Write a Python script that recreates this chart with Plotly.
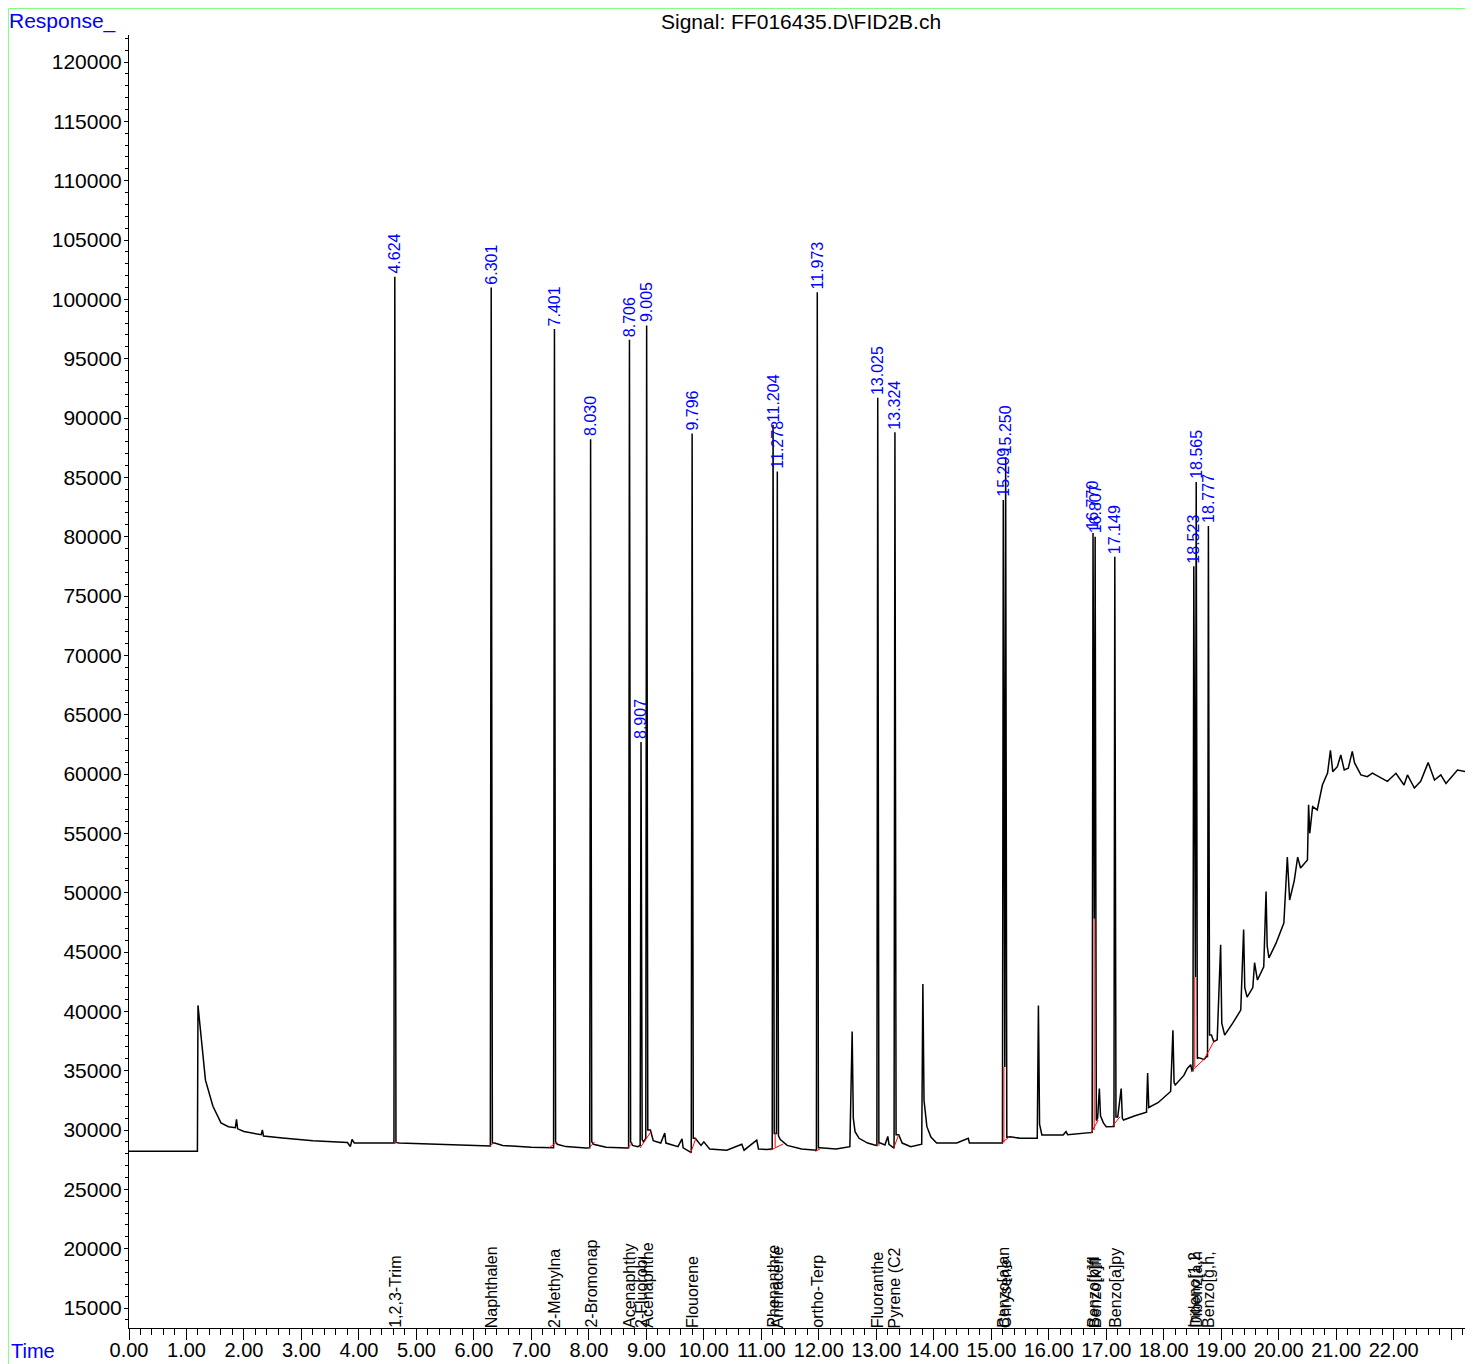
import plotly.graph_objects as go

# ---------------- data ----------------
# labelled peaks: retention time, apex response, base before, base after
peak_times = [4.624, 6.301, 7.401, 8.030, 8.706, 8.907, 9.005, 9.796, 11.204, 11.278,
              11.973, 13.025, 13.324, 15.209, 15.250, 16.770, 16.807, 17.149,
              18.523, 18.565, 18.777]
peak_apex = [101900, 101000, 97500, 88200, 96600, 62700, 97800, 88700, 89400, 85500,
             100600, 91700, 88800, 83100, 86700, 80300, 80000, 78300,
             77500, 84600, 80900]
peak_base_left = [28900, 28650, 28500, 28500, 28500, 28700, 29300, 28100, 28400, 29700,
                  28300, 28700, 28500, 28900, 35300, 29800, 47800, 30300,
                  35000, 42900, 36200]
peak_base_right = [28950, 28900, 29000, 29000, 29000, 29200, 30000, 29300, 29700, 29500,
                   28500, 28900, 29600, 35300, 29400, 47800, 30800, 31100,
                   42900, 36000, 38000]
compound_names = ["1,2,3-Trim", "Naphthalen", "2-Methylna", "2-Bromonap", "Acenaphthy",
                  "2-Fluorobi", "Acenaphthe", "Flouorene", "Phenanthre", "Anthracene",
                  "ortho-Terp", "Fluoranthe", "Pyrene (C2", "Benzo[a]an", "Chrysene",
                  "Benzo[b]fl", "Benzo[k]fl", "Benzo[a]py", "Indeno[1,2", "Dibenz[a,h",
                  "Benzo[g,h,"]

# rest of the signal (baseline, drift and unlabelled peaks)
signal_time = [0.00, 1.19, 1.20, 1.24, 1.33, 1.46, 1.60, 1.73, 1.85, 1.87, 1.89, 2.00,
               2.30, 2.32, 2.34, 2.67, 3.20, 3.80, 3.85, 3.88, 3.92, 4.40, 4.59,
               4.70, 5.30, 6.00, 6.25, 6.36, 6.50, 7.00, 7.33, 7.45, 7.60, 7.95,
               8.08, 8.30, 8.67, 8.76, 8.85, 8.95, 9.07, 9.12, 9.25, 9.32, 9.34,
               9.55, 9.62, 9.64, 9.77, 9.85, 9.95, 10.00, 10.10, 10.40, 10.66, 10.70,
               10.92, 10.95, 11.10, 11.17, 11.24, 11.33, 11.45, 11.70, 11.95, 12.02,
               12.30, 12.54, 12.58, 12.60, 12.63, 12.70, 12.85, 13.00, 13.07, 13.15,
               13.20, 13.22, 13.30, 13.39, 13.45, 13.60, 13.79, 13.81, 13.83, 13.88,
               13.95, 14.05, 14.40, 14.60, 14.62, 15.00, 15.19, 15.33, 15.50, 15.80,
               15.82, 15.84, 15.88, 16.25, 16.30, 16.33, 16.60, 16.74, 16.85, 16.88,
               16.90, 16.95, 17.00, 17.12, 17.20, 17.26, 17.28, 17.30, 17.50, 17.70,
               17.72, 17.74, 17.90, 18.12, 18.16, 18.18, 18.20, 18.35, 18.41, 18.47,
               18.49, 18.60, 18.70, 18.75, 18.83, 18.87, 18.93, 18.99, 19.01, 19.06,
               19.20, 19.34, 19.39, 19.41, 19.45, 19.55, 19.58, 19.63, 19.74, 19.78,
               19.80, 19.83, 19.95, 20.09, 20.15, 20.17, 20.19, 20.27, 20.33, 20.38,
               20.45, 20.50, 20.52, 20.54, 20.59, 20.67, 20.76, 20.85, 20.90, 20.94,
               21.02, 21.08, 21.14, 21.21, 21.28, 21.32, 21.43, 21.54, 21.63, 21.78,
               21.89, 22.04, 22.18, 22.24, 22.36, 22.47, 22.60, 22.71, 22.82, 22.91,
               23.11, 23.38]
signal_resp = [28200, 28200, 40500, 38500, 34200, 32000, 30600, 30280, 30200, 30900, 30100, 29870,
               29600, 30000, 29500, 29330, 29100, 28950, 28600, 29200, 28900, 28900, 28850,
               28900, 28800, 28740, 28650, 28900, 28700, 28550, 28480, 28800, 28600, 28480,
               28800, 28550, 28480, 28700, 28600, 29000, 30000, 29100, 28900, 29750, 28900,
               28600, 29250, 28500, 28100, 29300, 28700, 29000, 28400, 28300, 28800, 28300,
               29150, 28400, 28350, 28400, 29700, 29200, 28700, 28400, 28300, 28500,
               28400, 28600, 38300, 31000, 29860, 29300, 28900, 28700, 28900, 28740,
               29460, 28800, 28500, 29600, 28900, 28600, 28800, 42300, 32500, 30280,
               29400, 28900, 28900, 29300, 28900, 28900, 28900, 29440, 29300, 29300,
               40500, 30500, 29580, 29580, 29860, 29600, 29700, 29800, 31000, 33500,
               31200, 30600, 30280, 30300, 31100, 33500, 31000, 30840, 31200, 31500,
               34800, 31900, 32300, 33250, 38400, 34000, 33800, 34600, 35180, 35500,
               35000, 36100, 35950, 36200, 38000, 37450, 37600, 45600, 39000, 38000,
               39000, 40100, 46900, 42000, 41200, 42000, 44100, 42640, 43760, 50100,
               45500, 44500, 45700, 47440, 53000, 50500, 49380, 51000, 53000, 52080,
               52500, 52750, 57400, 55000, 57250, 56970, 59070, 60080, 62000, 60200,
               60620, 61600, 60340, 60480, 61900, 60930, 59920, 59780, 60070, 59640,
               59380, 60060, 59070, 59920, 58820, 59380, 60960, 59490, 59920, 59210,
               60340, 60070]

# red integration baselines: start time, start response, end time, end response
base_t0 = [4.60, 6.27, 7.30, 8.00, 8.67, 8.89, 9.77, 11.16, 11.24, 11.94, 13.00, 13.30,
           15.18, 15.22, 16.73, 16.79, 17.10, 18.47, 18.70, 18.54]
base_y0 = [28850, 28600, 28480, 28480, 28480, 28480, 28050, 28310, 28570, 28200, 28700, 28450,
           28900, 28950, 29700, 30000, 30280, 34900, 35950, 35300]
base_t1 = [4.66, 6.35, 7.45, 8.10, 8.76, 9.08, 9.86, 11.38, 11.24, 12.02, 13.06, 13.39,
           15.32, 15.22, 16.86, 16.79, 17.24, 18.70, 18.89, 18.54]
base_y1 = [28950, 28950, 29000, 29000, 28900, 29860, 29300, 28820, 29750, 28400, 28750, 29600,
           29440, 35300, 30840, 47800, 31120, 35950, 37600, 42900]

x_tick_vals = list(range(0, 24))
x_tick_text = [f"{v:.2f}" for v in range(0, 23)] + [""]
y_tick_vals = list(range(15000, 120001, 5000))

# ---------------- build the trace ----------------
pts = list(zip(signal_time, signal_resp))
for t, a, bl, br in zip(peak_times, peak_apex, peak_base_left, peak_base_right):
    pts += [(t - 0.015, bl), (t, a), (t + 0.02, br)]
pts.sort(key=lambda p: p[0])
tx = [p[0] for p in pts]
ty = [p[1] for p in pts]

rx, ry = [], []
for a, b, c, d in zip(base_t0, base_y0, base_t1, base_y1):
    rx += [a, c, None]
    ry += [b, d, None]

FONT = "Liberation Sans, Arial, sans-serif"

fig = go.Figure()
fig.add_trace(go.Scatter(x=tx, y=ty, mode="lines",
                         line=dict(color="black", width=1.5), hoverinfo="skip"))
fig.add_trace(go.Scatter(x=rx, y=ry, mode="lines",
                         line=dict(color="#ff0000", width=1), hoverinfo="skip"))

ann = []
for t, a in zip(peak_times, peak_apex):
    ann.append(dict(x=t, y=a, xref="x", yref="y", text=f"{t:.3f}", showarrow=False,
                    textangle=-90, xanchor="center", yanchor="bottom", yshift=1,
                    font=dict(family=FONT, size=16, color="#0000ff")))
for t, n in zip(peak_times, compound_names):
    ann.append(dict(x=t, y=0, xref="x", yref="paper", text=n, showarrow=False,
                    textangle=-90, xanchor="center", yanchor="bottom", yshift=-2,
                    font=dict(family=FONT, size=16, color="black")))
ann.append(dict(x=0.5, y=1.0101, xref="paper", yref="paper", text="Signal: FF016435.D\\FID2B.ch",
                showarrow=False, xanchor="center", yanchor="middle",
                font=dict(family=FONT, size=21, color="black")))
ann.append(dict(x=-0.0908, y=1.0108, xref="paper", yref="paper", text="Response_",
                showarrow=False, xanchor="left", yanchor="middle",
                font=dict(family=FONT, size=21, color="#0000ff")))
ann.append(dict(x=-0.0893, y=-0.0278, xref="paper", yref="paper", text="Time",
                showarrow=False, xanchor="left", yanchor="bottom",
                font=dict(family=FONT, size=20, color="#0000ff")))

shapes = [
    dict(type="line", xref="paper", yref="paper", x0=-0.0897, x1=1.01, y0=1.0205, y1=1.0205,
         line=dict(color="#80ff80", width=1)),
    dict(type="line", xref="paper", yref="paper", x0=-0.0897, x1=-0.0897, y0=1.0205, y1=-0.03,
         line=dict(color="#80ff80", width=1)),
]

# page body has an 8px margin: the figure is sized so the plot area lands at x 129..1473, y 35..1328
fig.update_layout(
    width=1465, height=1356,
    margin=dict(l=121, r=0, t=27, b=36),
    paper_bgcolor="white", plot_bgcolor="white",
    showlegend=False,
    annotations=ann, shapes=shapes,
    font=dict(family=FONT, color="black"),
    xaxis=dict(range=[0, 23.38], tickmode="array", tickvals=x_tick_vals, ticktext=x_tick_text,
               ticks="outside", ticklen=11, tickcolor="black", tickwidth=1, tickangle=0,
               automargin=False, ticklabelstandoff=-7,
               showline=True, linecolor="black", linewidth=1, showgrid=False, zeroline=False,
               tickfont=dict(family=FONT, size=20, color="black"),
               minor=dict(tickmode="linear", tick0=0, dtick=0.2, ticks="outside", ticklen=6,
                          tickcolor="black", tickwidth=1, showgrid=False)),
    yaxis=dict(range=[13315, 122275], tickmode="array", tickvals=y_tick_vals,
               ticktext=[str(v) for v in y_tick_vals], automargin=False,
               ticks="outside", ticklen=4, tickcolor="black", tickwidth=1,
               ticklabelstandoff=-2,
               showline=True, linecolor="black", linewidth=1, showgrid=False, zeroline=False,
               tickfont=dict(family=FONT, size=21, color="black"),
               minor=dict(tickmode="linear", tick0=0, dtick=1000, ticks="outside", ticklen=3,
                          tickcolor="black", tickwidth=1, showgrid=False)),
)

fig.write_html("out.html")
